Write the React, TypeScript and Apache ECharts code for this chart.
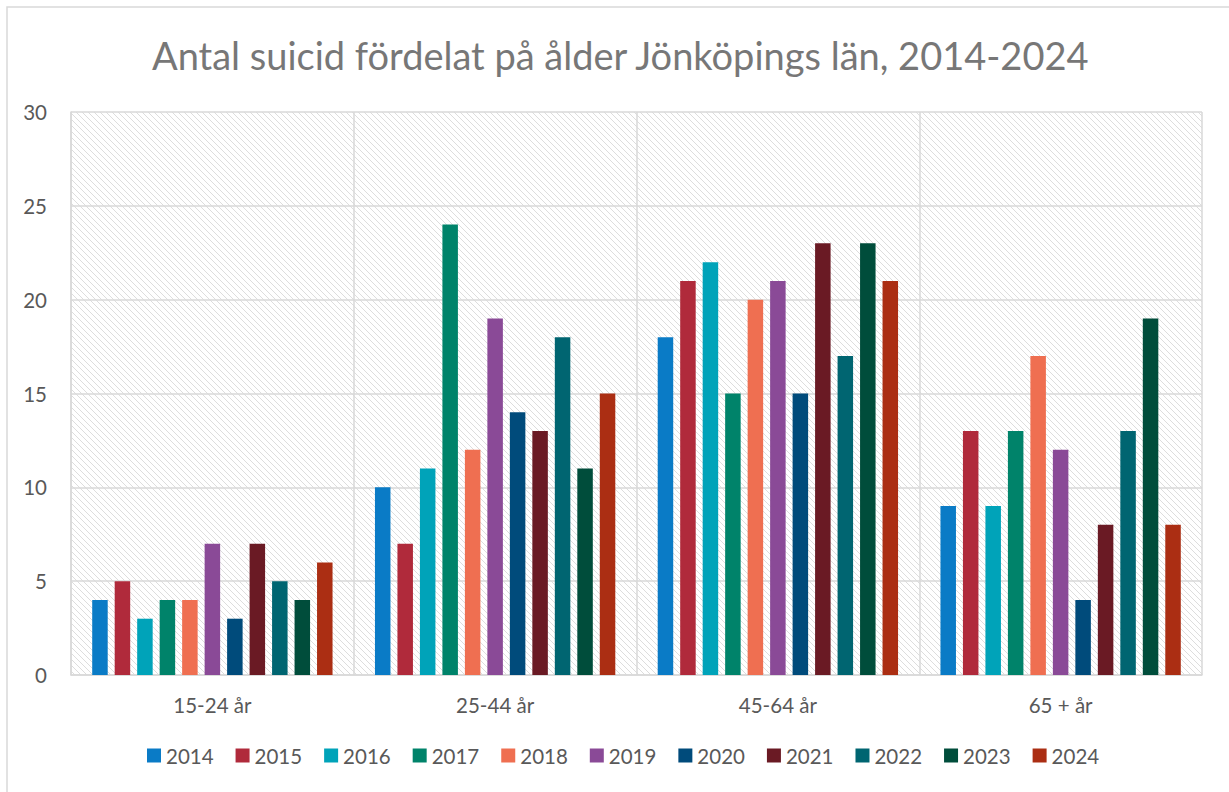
import React, { useEffect, useRef } from "react";
import * as echarts from "echarts";

const categories = ["15-24 år", "25-44 år", "45-64 år", "65 + år"];
const years = ["2014", "2015", "2016", "2017", "2018", "2019", "2020", "2021", "2022", "2023", "2024"];
const values2014 = [4, 10, 18, 9];
const values2015 = [5, 7, 21, 13];
const values2016 = [3, 11, 22, 9];
const values2017 = [4, 24, 15, 13];
const values2018 = [4, 12, 20, 17];
const values2019 = [7, 19, 21, 12];
const values2020 = [3, 14, 15, 4];
const values2021 = [7, 13, 23, 8];
const values2022 = [5, 18, 17, 13];
const values2023 = [4, 11, 23, 19];
const values2024 = [6, 15, 21, 8];
const seriesValues = [
  values2014, values2015, values2016, values2017, values2018, values2019,
  values2020, values2021, values2022, values2023, values2024,
];
const colors = [
  "#0a7bc6", "#b02a3b", "#00a3b9", "#00836a", "#ef6f51", "#8a4a97",
  "#004b7b", "#6a1a24", "#006571", "#004d3b", "#ab2e13",
];
const yTicks = { min: 0, max: 30, interval: 5 };

const FONT = "Lato, 'Open Sans', sans-serif";

function makePattern(): HTMLCanvasElement {
  const c = document.createElement("canvas");
  const n = 6;
  c.width = n;
  c.height = n;
  const ctx = c.getContext("2d")!;
  ctx.fillStyle = "#ffffff";
  ctx.fillRect(0, 0, n, n);
  ctx.fillStyle = "#dddddd";
  for (let i = 0; i < n; i++) {
    ctx.fillRect(i, i, 1, 1);
  }
  return c;
}

export default function App() {
  const ref = useRef<HTMLDivElement>(null);
  useEffect(() => {
    if (!ref.current) return;
    const chart = echarts.init(ref.current, undefined, { renderer: "svg" });
    const pattern = makePattern();
    chart.setOption({
      animation: false,
      backgroundColor: "#ffffff",
      color: colors,
      title: {
        text: "Antal suicid fördelat på ålder Jönköpings län, 2014-2024",
        left: 147,
        top: 31,
        textStyle: { fontFamily: FONT, fontSize: 38, fontWeight: "normal", color: "#777777" },
      },
      graphic: [
        {
          type: "rect",
          shape: { x: 7, y: 7, width: 1240, height: 800 },
          style: { fill: "none", stroke: "#d9d9d9", lineWidth: 1.5 },
          silent: true,
          z: -1,
        },
      ],
      grid: {
        left: 71,
        right: 27,
        top: 112,
        bottom: 117,
        show: true,
        backgroundColor: { image: pattern, repeat: "repeat" } as any,
        borderWidth: 0,
      },
      legend: {
        bottom: 21,
        left: 142,
        itemWidth: 14,
        itemHeight: 14,
        itemGap: 22,
        icon: "rect",
        textStyle: { fontFamily: FONT, fontSize: 20.5, color: "#595959" },
        data: years,
      },
      xAxis: {
        type: "category",
        data: categories,
        axisLine: { show: true, lineStyle: { color: "#d9d9d9", width: 1.5 } },
        axisTick: { show: false },
        splitLine: { show: true, lineStyle: { color: "#d9d9d9", width: 1.5 } },
        axisLabel: { fontFamily: FONT, fontSize: 20.5, color: "#595959", margin: 19 },
      },
      yAxis: {
        type: "value",
        min: yTicks.min,
        max: yTicks.max,
        interval: yTicks.interval,
        axisLine: { show: true, lineStyle: { color: "#d9d9d9", width: 1.5 } },
        axisTick: { show: false },
        splitLine: { show: true, lineStyle: { color: "#d9d9d9", width: 1.5 } },
        axisLabel: { fontFamily: FONT, fontSize: 20.5, color: "#595959", margin: 24 },
      },
      series: years.map((y, i) => ({
        name: y,
        type: "bar",
        data: seriesValues[i],
        barGap: "45%",
        barCategoryGap: "15%",
      })),
    });
    return () => chart.dispose();
  }, []);
  return (
    <div
      ref={ref}
      style={{ position: "fixed", left: 0, top: 0, width: 1229, height: 792 }}
    />
  );
}
